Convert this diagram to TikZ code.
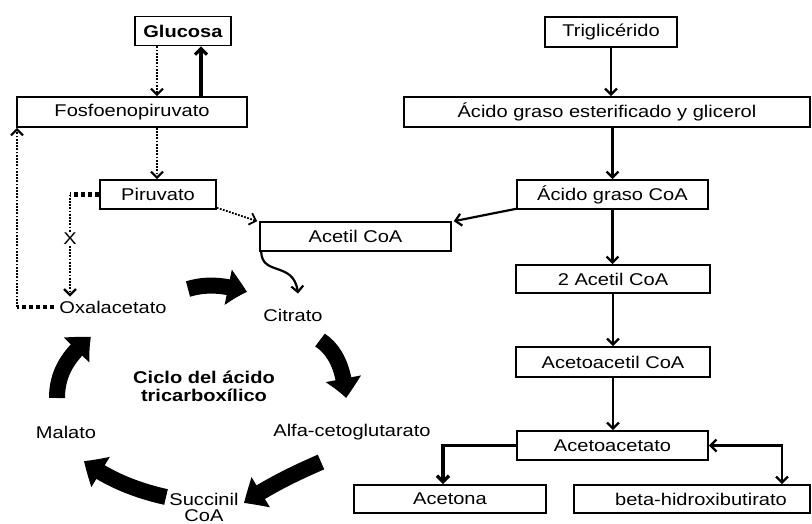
\documentclass[tikz,border=0pt]{standalone}
\usepackage{fontspec}
\setmainfont{Liberation Sans}[FakeStretch=1.18]
\usetikzlibrary{arrows.meta,calc,bending}
\begin{document}
\begin{tikzpicture}[x=1pt,y=-1pt,
  box/.style={draw,line width=1.6pt,inner sep=0pt,font=\fontsize{17}{20}\selectfont},
  lbl/.style={inner sep=1pt,font=\fontsize{17}{18}\selectfont,align=center},
  con/.style={line width=2.4pt,-{Straight Barb[length=6pt,width=12pt]}},
  dotc/.style={line width=2.2pt,dash pattern=on 1.8pt off 1.4pt,-{Straight Barb[length=6pt,width=12pt]}},
  sq/.style={line width=4.5pt,dash pattern=on 4pt off 3pt},
  big/.style={line width=16pt,-{Triangle[length=20pt,width=34pt,bend]}}
]
\useasboundingbox (0,0) rectangle (812,523);
% boxes
\node[box,minimum width=96pt,minimum height=29pt] (glu) at (183,31) {\textbf{Glucosa}};
\node[box,minimum width=230pt,minimum height=30pt] (fos) at (132,112) {Fosfoenopiruvato};
\node[box,minimum width=116pt,minimum height=29pt] (pir) at (158,194.5) {Piruvato};
\node[box,minimum width=191pt,minimum height=29pt] (aco) at (355.5,236.5) {Acetil CoA};
\node[box,minimum width=132pt,minimum height=30pt] (tri) at (611,32) {Triglicérido};
\node[box,minimum width=406pt,minimum height=30pt] (age) at (607,112) {Ácido graso esterificado y glicerol};
\node[box,minimum width=191pt,minimum height=29pt] (agc) at (612.5,194.5) {Ácido graso CoA};
\node[box,minimum width=194pt,minimum height=28pt] (ac2) at (613,279) {2 Acetil CoA};
\node[box,minimum width=194pt,minimum height=30pt] (aca) at (613,362) {Acetoacetil CoA};
\node[box,minimum width=191pt,minimum height=29pt] (acet) at (612.5,445.5) {Acetoacetato};
\node[box,minimum width=192pt,minimum height=28pt] (acn) at (450,499) {Acetona};
\node[box,minimum width=236pt,minimum height=28pt] (bet) at (692,499) {\hspace*{18pt}beta-hidroxibutirato};
% cycle labels
\node[lbl] (oxa) at (113,307) {Oxalacetato};
\node[lbl] (cit) at (293,315) {Citrato};
\node[lbl] (alf) at (352,432) {Alfa-cetoglutarato};
\node[lbl] (mal) at (66,432) {Malato};
\node[lbl,font=\fontsize{17}{16}\selectfont] (suc) at (204,507) {Succinil\\CoA};
\node[lbl,font=\fontsize{17}{18}\selectfont\bfseries] (cic) at (204,386) {Ciclo del ácido\\tricarboxílico};
% connectors top-left
\draw[dotc] ($(glu.south)+(-26,0)$) -- ($(fos.north)+(25,0)$);
\draw[con,line width=3.2pt] ($(fos.north)+(69,0)$) -- ($(glu.south)+(18,0)$);
\draw[dotc] ($(fos.south)+(25,0)$) -- ($(pir.north)+(-1,0)$);
\coordinate (cx) at (70,194.5);
\draw[sq] (pir.west) -- (cx);
\draw[dotc,shorten >=3pt] (cx) -- node[pos=0.42,fill=white,lbl] (xl) {X} (cx |- oxa.north);
\coordinate (cy) at (17,307);
\draw[sq,shorten <=4pt] (oxa.west) -- (cy);
\draw[dotc] (cy) -- (cy |- fos.south);
\draw[dotc,line width=1.8pt] ($(pir.south east)+(0,-2)$) -- ($(aco.north west)+(-2,0)$);
\draw[con,line width=2.2pt] ($(agc.south west)+(0,-1)$) -- ($(aco.north east)+(2,0)$);
\draw[con,line width=2.2pt] ($(aco.south west)+(2,0)$) .. controls (262,277) and (295,260) .. ($(cit.north)+(5,-14)$);
% right column
\draw[con] (tri.south) -- (tri.south |- age.north);
\draw[con] (agc.south |- age.south) -- (agc.north);
\draw[con] (agc.south) -- (agc.south |- ac2.north);
\draw[con] (ac2.south) -- (ac2.south |- aca.north);
\draw[con] (aca.south) -- (aca.south |- acet.north);
\draw[con,line width=3.5pt] (acet.west) -| ($(acn.north)+(-7,0)$);
\draw[con,{Straight Barb[length=6pt,width=12pt]}-{Straight Barb[length=6pt,width=12pt]}] (acet.east) -| ($(bet.north)+(90,0)$);
% big cycle arrows
\coordinate (b1s) at (188,289); \coordinate (b1e) at (247,292);
\coordinate (b2s) at (320,340); \coordinate (b2e) at (346,398);
\coordinate (b3s) at (321,462); \coordinate (b3e) at (244,503);
\coordinate (b4s) at (166,497); \coordinate (b4e) at (84,461);
\coordinate (b5s) at (57,398); \coordinate (b5e) at (91,337);
\draw[big] (b1s) .. controls (205,284) and (222,284) .. (b1e);
\draw[big] (b2s) .. controls (335,350) and (344,368) .. (b2e);
\draw[big] (b3s) .. controls (298,472) and (270,485) .. (b3e);
\draw[big] (b4s) .. controls (135,490) and (108,479) .. (b4e);
\draw[big] (b5s) .. controls (57,377) and (65,357) .. (b5e);
\end{tikzpicture}
\end{document}
